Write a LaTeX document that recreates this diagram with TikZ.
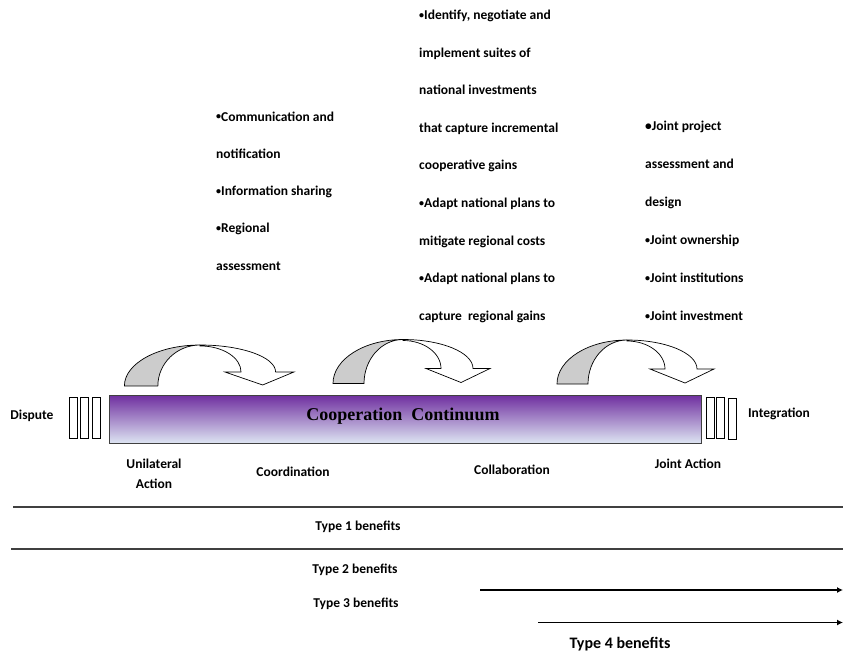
\documentclass[tikz,border=0pt]{standalone}
\usepackage{fontspec}
\setmainfont{Carlito}
\newfontfamily\serifbf{Liberation Serif}
\usetikzlibrary{arrows.meta}
\definecolor{barpurple}{RGB}{112,48,160}
\definecolor{barlight}{RGB}{222,230,243}
\definecolor{arrowgray}{RGB}{204,204,204}
\definecolor{edgegray}{RGB}{64,64,64}
\newcommand{\sbul}{\raisebox{1.3pt}{\fontsize{10}{10}\selectfont•}}
\newcommand{\bbul}{{\fontsize{13.5}{13.5}\selectfont•}}
\begin{document}
\begin{tikzpicture}[x=1pt,y=-1pt,
  lbl/.style={font=\bfseries\fontsize{13.5}{15}\selectfont, inner sep=0pt, text height=9pt, text depth=3pt},
  ln/.style={lbl, anchor=west},
  tickbox/.style={draw=black, fill=white, line width=0.7pt, minimum width=8pt, minimum height=41pt, inner sep=0pt, anchor=north west},
  rulel/.style={draw=edgegray, line width=1.2pt},
  benefit/.style={draw=black, line width=1.4pt, -{Latex[length=6pt,width=6pt]}},
  pics/curvarrow/.style={code={
    \draw[line width=0.7pt, fill=arrowgray] (-70,44) arc[start angle=180,end angle=270,x radius=70,y radius=44]
       arc[start angle=270,end angle=180,x radius=39,y radius=44] -- cycle;
    \draw[line width=0.7pt, fill=white] (0,0) arc[start angle=270,end angle=360,x radius=70,y radius=29]
       -- (87,29) -- (58,43) -- (23,29) -- (38,29)
       arc[start angle=0,end angle=-90,x radius=38,y radius=28] -- cycle;
  }}
]
\useasboundingbox (0,0) rectangle (843,654);

% text blocks
\foreach \t [count=\i from 0] in {{\sbul Communication and},{notification},{\sbul Information sharing},{\sbul Regional},{assessment}}
  \node[ln] (c\i) at (216,118+37.3*\i) {\t};
\foreach \t [count=\i from 0] in {{\sbul Identify, negotiate and},{implement suites of},{national investments},{that capture incremental},{cooperative gains},{\sbul Adapt national plans to},{mitigate regional costs},{\sbul Adapt national plans to},{capture\ \ regional gains}}
  \node[ln] (m\i) at (419,16.5+37.6*\i) {\t};
\foreach \t [count=\i from 0] in {{\bbul Joint project},{assessment and},{design},{\sbul Joint ownership},{\sbul Joint institutions},{\sbul Joint investment}}
  \node[ln] (j\i) at (645,127.5+38*\i) {\t};

% curved arrows
\pic[xscale=1.08,yscale=0.93] at (200,345) {curvarrow};
\pic at (403,339.5) {curvarrow};
\pic at (627,340) {curvarrow};

% continuum bar
\node[draw=edgegray, line width=0.9pt, top color=barpurple, bottom color=barlight,
      minimum width=592pt, minimum height=48pt, inner sep=0pt, anchor=north west] (bar) at (109,395) {};
\node[font=\serifbf\bfseries\fontsize{18}{20}\selectfont, inner sep=0pt] (title) at (403,416) {Cooperation\ \ Continuum};

\node[tickbox] (l1) at (69,397) {};
\node[tickbox] (l2) at (80,397) {};
\node[tickbox] (l3) at (92,397) {};
\node[tickbox] (r1) at (705.5,397) {};
\node[tickbox] (r2) at (716,397) {};
\node[tickbox] (r3) at (727.5,398) {};

\node[lbl] (dispute) at (32,416) {Dispute};
\node[lbl] (integ) at (779,414) {Integration};

\node[inner sep=0pt, align=center, font=\bfseries\fontsize{13.5}{20}\selectfont] (unil) at (154,474) {Unilateral\\Action};
\node[lbl] (coord) at (293,473) {Coordination};
\node[lbl] (collab) at (512,471) {Collaboration};
\node[lbl] (joint) at (688,465) {Joint Action};

% benefit rules
\coordinate (ra1) at (13,507);
\coordinate (rb1) at (843,507);
\coordinate (ra2) at (11,549);
\coordinate (rb2) at (843,549);
\draw[rulel] (ra1) -- (rb1);
\draw[rulel] (ra2) -- (rb2);

\node[lbl] (t1) at (358,527) {Type 1 benefits};
\node[lbl] (t2) at (355,570) {Type 2 benefits};
\node[lbl] (t3) at (356,604) {Type 3 benefits};
\node[lbl, font=\bfseries\fontsize{16}{18}\selectfont, text height=11pt, text depth=3.5pt] (t4) at (620,645) {Type 4 benefits};

\coordinate (a3s) at (480,590);
\coordinate (a3e) at (843,590);
\coordinate (a4s) at (538,622.5);
\coordinate (a4e) at (843,622.5);
\draw[benefit] (a3s) -- (a3e);
\draw[benefit] (a4s) -- (a4e);
\end{tikzpicture}
\end{document}
